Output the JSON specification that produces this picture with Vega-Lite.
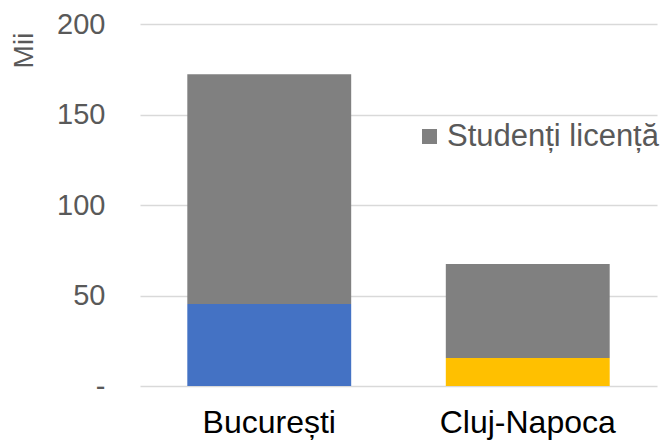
{
  "$schema": "https://vega.github.io/schema/vega-lite/v6.json",
  "width": 517,
  "height": 362,
  "autosize": {"type": "none"},
  "padding": {"left": 140, "top": 24, "right": 12, "bottom": 56},
  "background": "white",
  "config": {
    "view": {"stroke": null},
    "font": "Liberation Sans"
  },
  "data": {
    "values": [
      {"oras": "București", "serie": "Alte București", "valoare": 45.3},
      {"oras": "București", "serie": "Studenți licență", "valoare": 126.9},
      {"oras": "Cluj-Napoca", "serie": "Alte Cluj-Napoca", "valoare": 15.5},
      {"oras": "Cluj-Napoca", "serie": "Studenți licență", "valoare": 51.9}
    ]
  },
  "mark": {"type": "bar"},
  "encoding": {
    "x": {
      "field": "oras",
      "type": "nominal",
      "sort": ["București", "Cluj-Napoca"],
      "scale": {"paddingInner": 0.366, "paddingOuter": 0.183},
      "axis": {
        "title": null,
        "labelAngle": 0,
        "labelFontSize": 32,
        "labelColor": "#000000",
        "labelPadding": 21,
        "ticks": false,
        "domain": false,
        "grid": false
      }
    },
    "y": {
      "field": "valoare",
      "type": "quantitative",
      "stack": "zero",
      "scale": {"domain": [0, 200], "nice": false},
      "axis": {
        "title": "Mii",
        "titleFontSize": 28,
        "titleFontWeight": "normal",
        "titleColor": "#595959",
        "titleAngle": 270,
        "titleAlign": "center",
        "titleBaseline": "middle",
        "titleX": -116,
        "titleY": 26,
        "values": [0, 50, 100, 150, 200],
        "labelExpr": "datum.value == 0 ? '-\u00a0\u00a0' : datum.label",
        "labelFontSize": 29,
        "labelColor": "#595959",
        "labelPadding": 35,
        "ticks": false,
        "domain": false,
        "grid": true,
        "gridColor": "#d9d9d9",
        "gridWidth": 1.5
      }
    },
    "color": {
      "field": "serie",
      "type": "nominal",
      "scale": {
        "domain": ["Studenți licență", "Alte București", "Alte Cluj-Napoca"],
        "range": ["#808080", "#4472C4", "#FFC000"]
      },
      "legend": {
        "values": ["Studenți licență"],
        "title": null,
        "orient": "none",
        "legendX": 274,
        "legendY": 97,
        "symbolType": "square",
        "symbolSize": 225,
        "symbolStrokeWidth": 0,
        "labelFontSize": 31,
        "labelColor": "#595959",
        "labelOffset": 2,
        "labelLimit": 400,
        "padding": 0
      }
    },
    "order": {"field": "serie", "sort": "ascending"}
  }
}
